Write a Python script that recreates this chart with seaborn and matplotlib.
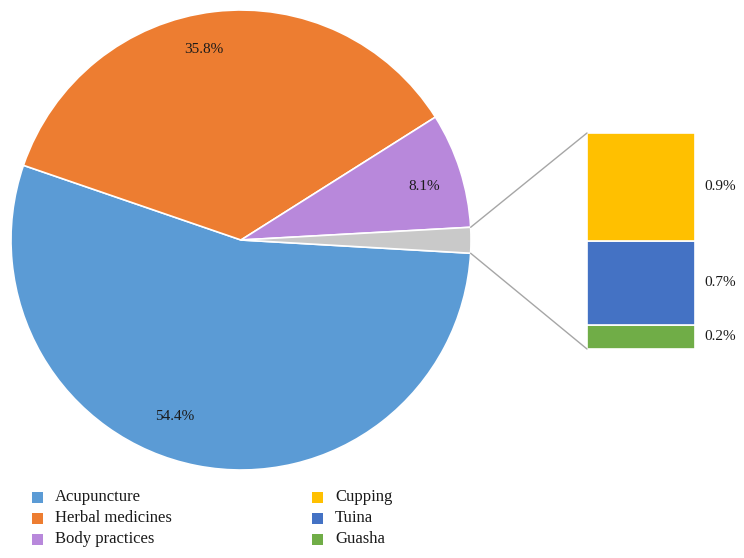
import numpy as np
import matplotlib
matplotlib.use("Agg")
import matplotlib.pyplot as plt
from matplotlib.patches import Rectangle
import seaborn as sns

# ---- data ----
pie_labels = ["Acupuncture", "Herbal medicines", "Body practices", "Other"]
pie_values = [54.4, 35.8, 8.1, 1.8]
bar_labels = ["Guasha", "Tuina", "Cupping"]   # bottom to top
bar_values = [0.2, 0.7, 0.9]
legend_order = ["Acupuncture", "Herbal medicines", "Body practices", "Cupping", "Tuina", "Guasha"]

# ---- style ----
sns.set_theme(style="white")
plt.rcParams["font.family"] = ["Liberation Serif", "DejaVu Serif"]
colors = {"Acupuncture": "#5B9BD5", "Herbal medicines": "#ED7D31",
          "Body practices": "#B888DB", "Other": "#C9C9C9",
          "Cupping": "#FFC000", "Tuina": "#4472C4", "Guasha": "#70AD47"}
txt_color = "#1a1a1a"

W, H = 744, 558
fig = plt.figure(figsize=(W / 100, H / 100), dpi=100)
ax = fig.add_axes([0, 0, 1, 1])

cx, cy, R = 241, H - 240, 230
start = 356.7
wedges, _, autotexts = ax.pie(
    pie_values, colors=[colors[l] for l in pie_labels], startangle=start,
    counterclock=False, center=(cx, cy), radius=R, autopct="%.1f%%",
    wedgeprops=dict(edgecolor="white", linewidth=1.2), frame=True,
    textprops=dict(fontsize=11, color=txt_color))
ax.set_xlim(0, W)
ax.set_ylim(0, H)
ax.set_aspect("equal")
ax.axis("off")

# label placement (distance ratio, angle offset from wedge middle)
lab_dist = [0.82, 0.845, 0.83, None]
lab_off = [-9.4, 4.3, -1.6, 0]
for w, t, v, d, o in zip(wedges, autotexts, pie_values, lab_dist, lab_off):
    if d is None:
        t.set_visible(False)
        continue
    t.set_text(f"{v:.1f}%")
    mid = np.deg2rad((w.theta1 + w.theta2) / 2 + o)
    t.set_position((cx + R * d * np.cos(mid), cy + R * d * np.sin(mid)))

# stacked bar
bar_x, bar_w = 641, 108
bottom_y = H - 349
scale = 216 / sum(bar_values)
b = bottom_y
for lab, v in zip(bar_labels, bar_values):
    ax.bar(bar_x, v * scale, bottom=b, width=bar_w, color=colors[lab],
           edgecolor="white", linewidth=1.2)
    ax.text(704, b + v * scale / 2, f"{v:.1f}%", ha="left", va="center",
            fontsize=11, color=txt_color)
    b += v * scale
top_y = b

# connector lines from "Other" wedge
ow = wedges[-1]
a1, a2 = np.deg2rad(ow.theta1), np.deg2rad(ow.theta2)
p_low = (cx + R * np.cos(a1), cy + R * np.sin(a1))
p_high = (cx + R * np.cos(a2), cy + R * np.sin(a2))
xl = bar_x - bar_w / 2
ax.plot([p_high[0], xl], [p_high[1], top_y], color="#A6A6A6", lw=1)
ax.plot([p_low[0], xl], [p_low[1], bottom_y], color="#A6A6A6", lw=1)

# legend (two columns, three rows)
col_x = [32, 312]
row_y = [497, 518, 539]
sq = 11
for i, lab in enumerate(legend_order):
    x0 = col_x[i // 3]
    y0 = H - row_y[i % 3]
    ax.add_patch(Rectangle((x0, y0 - sq / 2), sq, sq, facecolor=colors[lab],
                           edgecolor="none"))
    ax.text(x0 + 23, y0, lab, ha="left", va="center", fontsize=12,
            color=txt_color)

fig.savefig("out.png", dpi=100)
